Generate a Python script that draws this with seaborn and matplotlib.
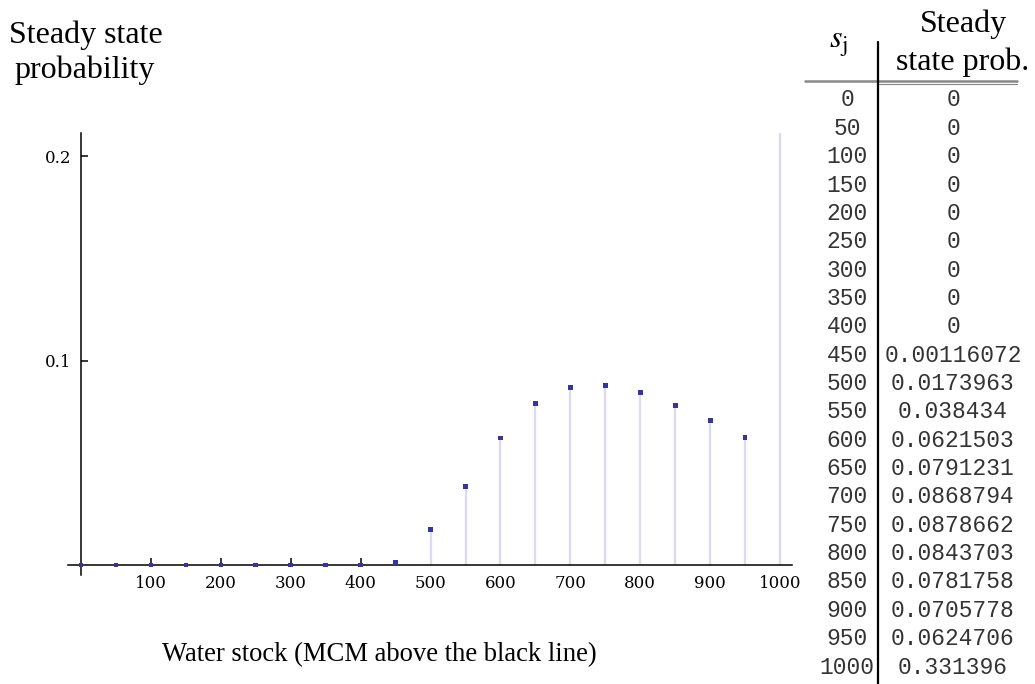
import matplotlib
matplotlib.use("Agg")
import matplotlib.pyplot as plt
import seaborn as sns
import pandas as pd

# Steady state distribution of the water stock
stock = [0, 50, 100, 150, 200, 250, 300, 350, 400, 450, 500,
         550, 600, 650, 700, 750, 800, 850, 900, 950, 1000]
prob = [0, 0, 0, 0, 0, 0, 0, 0, 0, 0.00116072, 0.0173963,
        0.038434, 0.0621503, 0.0791231, 0.0868794, 0.0878662, 0.0843703,
        0.0781758, 0.0705778, 0.0624706, 0.331396]
xticks = [100, 200, 300, 400, 500, 600, 700, 800, 900, 1000]
yticks = [0.1, 0.2]

df = pd.DataFrame({"stock": stock, "prob": prob})

sns.set_style("white")
plt.rcParams["font.family"] = ["DejaVu Sans"]
plt.rcParams["text.color"] = "black"

W, H = 1035, 684
fig = plt.figure(figsize=(W / 100, H / 100), dpi=100)

# axes placed in pixel coordinates of the figure
ax = fig.add_axes([68 / W, 1 - 575 / H, (792 - 68) / W, (575 - 133) / H])
ax.set_xlim(-18.6, 1017)
ax.set_ylim(-0.0049, 0.2114)

ax.vlines(df["stock"], 0, df["prob"], color="#dadaf0", lw=1.6, zorder=1)
sns.scatterplot(data=df, x="stock", y="prob", ax=ax, marker="s", s=11,
                color="#35359a", edgecolor="none", zorder=3, clip_on=True)

for side in ["top", "right"]:
    ax.spines[side].set_visible(False)
ax.spines["left"].set_position(("data", 0))
ax.spines["bottom"].set_position(("data", 0))
for side in ["left", "bottom"]:
    ax.spines[side].set_color("black")
    ax.spines[side].set_linewidth(1.1)
    ax.spines[side].set_zorder(2)

ax.set_xticks(xticks)
ax.set_yticks(yticks)
ax.set_xticklabels([str(t) for t in xticks])
ax.set_yticklabels([str(t) for t in yticks])
ax.tick_params(axis="both", direction="in", length=5, width=1.1, color="black",
               labelcolor="black", labelsize=12, pad=7, bottom=True, left=True)
for lab in ax.get_xticklabels() + ax.get_yticklabels():
    lab.set_family("DejaVu Serif")
ax.set_xlabel("")
ax.set_ylabel("")

serif = ["Liberation Serif", "DejaVu Serif"]
fig.text(9 / W, 1 - 43 / H, "Steady state", family=serif, fontsize=23,
         ha="left", va="baseline", color="black")
fig.text(85 / W, 1 - 78 / H, "probability", family=serif, fontsize=23,
         ha="center", va="baseline", color="black")
fig.text(379 / W, 1 - 655 / H, "Water stock (MCM above the black line)",
         family=serif, fontsize=19.2, ha="center", va="center", color="black")

# table on the right
fig.text(838 / W, 1 - 48 / H, r"$s_{\mathrm{j}}$", family=serif, fontsize=23,
         ha="center", va="baseline", math_fontfamily="stix", color="black")
fig.text(963 / W, 1 - 32 / H, "Steady", family=serif, fontsize=23,
         ha="center", va="baseline", color="black")
fig.text(963 / W, 1 - 70 / H, "state prob.", family=serif, fontsize=23,
         ha="center", va="baseline", color="black")

fig.add_artist(plt.Line2D([805 / W, 1017 / W], [1 - 81 / H, 1 - 81 / H],
                          color="#888888", lw=1.8, transform=fig.transFigure))
fig.add_artist(plt.Line2D([878 / W, 1017 / W], [1 - 84 / H, 1 - 84 / H],
                          color="#888888", lw=0.8, transform=fig.transFigure))
fig.add_artist(plt.Line2D([878 / W, 878 / W], [1 - 42 / H, 0],
                          color="black", lw=1.6, transform=fig.transFigure))

row0, step = 100, 28.35
for i, (s, p) in enumerate(zip(stock, prob)):
    y = 1 - (row0 + i * step) / H
    fig.text(847 / W, y, str(s), family="Liberation Mono", fontsize=16.5,
             ha="center", va="center", color="#333333")
    fig.text(953 / W, y, "0" if p == 0 else str(p), family="Liberation Mono",
             fontsize=16.5, ha="center", va="center", color="#333333")

fig.savefig("out.png", dpi=100)
